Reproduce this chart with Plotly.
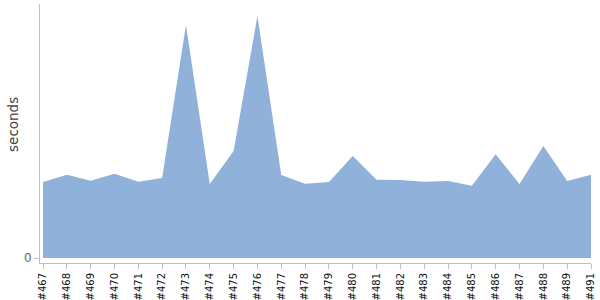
import plotly.graph_objects as go

builds = ["#467", "#468", "#469", "#470", "#471", "#472", "#473", "#474", "#475",
          "#476", "#477", "#478", "#479", "#480", "#481", "#482", "#483", "#484",
          "#485", "#486", "#487", "#488", "#489", "#491"]
seconds = [76, 83.3, 77.3, 84.3, 76.3, 80, 233, 74, 107,
           242, 83, 74.3, 76, 102, 78.3, 78, 76.3, 77,
           72.3, 103.7, 74, 112, 77, 83.3]

fig = go.Figure(go.Scatter(
    x=builds, y=seconds, mode="lines", fill="tozeroy",
    line=dict(width=0, color="#8fb1da"), fillcolor="#8fb1da",
    hoverinfo="skip"))

fig.update_layout(
    width=600, height=300,
    margin=dict(l=40, r=9, t=4, b=37),
    paper_bgcolor="white", plot_bgcolor="white",
    showlegend=False,
    font=dict(family="DejaVu Sans", color="#222"),
    xaxis=dict(type="category", range=[-0.126, 23], showgrid=False, zeroline=False,
               automargin=False,
               showline=True, linecolor="#c0c0c0", linewidth=1,
               ticks="outside", ticklen=5, tickcolor="#c0c0c0",
               tickangle=-90, tickfont=dict(size=10, color="#111")),
    yaxis=dict(range=[-5, 254], showgrid=False, zeroline=False,
               automargin=False,
               showline=True, linecolor="#c0c0c0", linewidth=1,
               tickvals=[0], ticktext=["0"], ticks="outside", ticklen=5,
               tickcolor="#c0c0c0", tickfont=dict(size=12, color="#666")),
    annotations=[dict(text="seconds", xref="paper", yref="paper",
                      x=-0.049, y=0.533, xanchor="center", yanchor="middle",
                      textangle=-90, showarrow=False,
                      font=dict(size=13.5, color="#444"))],
)

fig.write_html("out.html")
